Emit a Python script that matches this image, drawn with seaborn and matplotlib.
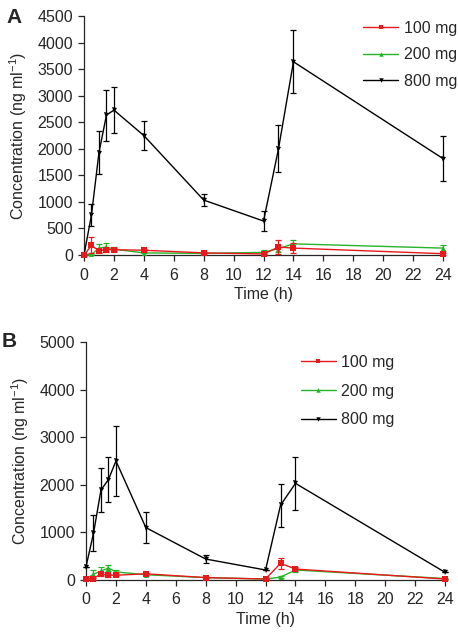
import numpy as np
import pandas as pd
import matplotlib
matplotlib.use("Agg")
import matplotlib.pyplot as plt
from matplotlib.lines import Line2D
import seaborn as sns

# ---- data ----------------------------------------------------------------
TIME = [0, 0.5, 1, 1.5, 2, 4, 8, 12, 13, 14, 24]
DOSES = ["100 mg", "200 mg", "800 mg"]

# Panel A
A_100 = [0, 180, 80, 100, 100, 90, 40, 20, 150, 130, 25]
A_100_ERR = [0, 150, 40, 40, 30, 20, 10, 10, 130, 100, 20]
A_200 = [0, 10, 130, 150, 110, 40, 30, 50, 120, 210, 130]
A_200_ERR = [0, 10, 70, 80, 50, 10, 10, 50, 60, 80, 60]
A_800 = [0, 755, 1930, 2635, 2730, 2250, 1035, 640, 2000, 3640, 1815]
A_800_ERR = [0, 210, 400, 480, 430, 270, 110, 180, 440, 595, 430]

# Panel B
B_100 = [20, 30, 130, 100, 100, 130, 50, 20, 350, 230, 20]
B_100_ERR = [10, 20, 40, 30, 20, 20, 10, 10, 110, 40, 10]
B_200 = [20, 120, 190, 250, 170, 110, 50, 20, 60, 210, 30]
B_200_ERR = [10, 80, 80, 70, 30, 20, 10, 10, 20, 50, 10]
B_800 = [280, 980, 1890, 2110, 2500, 1100, 440, 210, 1570, 2030, 160]
B_800_ERR = [0, 380, 470, 480, 740, 330, 90, 0, 450, 560, 0]

COLORS = {"100 mg": "#e8191c", "200 mg": "#27b327", "800 mg": "#000000"}
MARKERS = {"100 mg": "s", "200 mg": "^", "800 mg": "v"}
MSIZE = {"100 mg": 4.2, "200 mg": 3.6, "800 mg": 3.6}
ZORD = {"100 mg": 5, "200 mg": 4, "800 mg": 3}
FS = 11.5


def long_frame(means, errs):
    rows = []
    for dose, m, e in zip(DOSES, means, errs):
        for t, v, s in zip(TIME, m, e):
            rows.append({"Time": t, "Conc": v, "Err": s, "Dose": dose})
    return pd.DataFrame(rows)


def draw_panel(ax, df, ymax, ystep, legend_anchor, legend_spacing):
    # draw 800 first so the low-dose curves sit on top, red uppermost
    for dose in DOSES[::-1]:
        sub = df[df["Dose"] == dose]
        ax.errorbar(sub["Time"], sub["Conc"], yerr=sub["Err"], fmt="none",
                    ecolor=COLORS[dose], elinewidth=0.9, capsize=2.5,
                    capthick=0.9, clip_on=False, zorder=ZORD[dose])
        sns.lineplot(data=sub, x="Time", y="Conc", color=COLORS[dose],
                     marker=MARKERS[dose], markersize=MSIZE[dose],
                     markeredgewidth=0, linewidth=1.0, ax=ax,
                     clip_on=False, zorder=ZORD[dose] + 0.5)

    ax.set_xlim(0, 24)
    ax.set_ylim(0, ymax)
    ax.set_xticks(np.arange(0, 25, 2))
    ax.set_yticks(np.arange(0, ymax + 1, ystep))
    ax.set_xlabel("Time (h)", fontsize=FS, labelpad=3)
    ax.set_ylabel("Concentration (ng ml$^{-1}$)", fontsize=FS, labelpad=6)
    ax.tick_params(labelsize=FS, length=4, width=0.9, direction="out")
    ax.tick_params(axis="x", pad=5)
    ax.tick_params(axis="y", pad=4)
    for side in ["top", "right"]:
        ax.spines[side].set_visible(False)
    for side in ["left", "bottom"]:
        ax.spines[side].set_linewidth(0.9)

    handles = [Line2D([], [], color=COLORS[d], marker=MARKERS[d],
                      markersize=3.2, markeredgewidth=0, linewidth=1.0)
               for d in DOSES]
    ax.legend(handles, DOSES, loc="upper left", bbox_to_anchor=legend_anchor,
              frameon=False, fontsize=FS, handlelength=2.2,
              labelspacing=legend_spacing, handletextpad=0.35,
              borderaxespad=0, borderpad=0)


sns.set_theme(style="ticks")
plt.rcParams["font.family"] = ["Liberation Sans", "DejaVu Sans"]
plt.rcParams["mathtext.fontset"] = "custom"
plt.rcParams["mathtext.rm"] = "Liberation Sans"

fig = plt.figure(figsize=(4.58, 6.32), dpi=100)
ax_a = fig.add_axes([0.1834, 0.5965, 0.784, 0.378])
ax_b = fig.add_axes([0.1878, 0.0823, 0.784, 0.3766])

df_a = long_frame([A_100, A_200, A_800], [A_100_ERR, A_200_ERR, A_800_ERR])
df_b = long_frame([B_100, B_200, B_800], [B_100_ERR, B_200_ERR, B_800_ERR])

draw_panel(ax_a, df_a, 4500, 500, (0.777, 0.98), 0.72)
draw_panel(ax_b, df_b, 5000, 1000, (0.598, 0.945), 0.85)

fig.text(0.015, 0.988, "A", fontsize=15, fontweight="bold", va="top")
fig.text(0.004, 0.475, "B", fontsize=15, fontweight="bold", va="top")

fig.savefig("out.png", dpi=100)
